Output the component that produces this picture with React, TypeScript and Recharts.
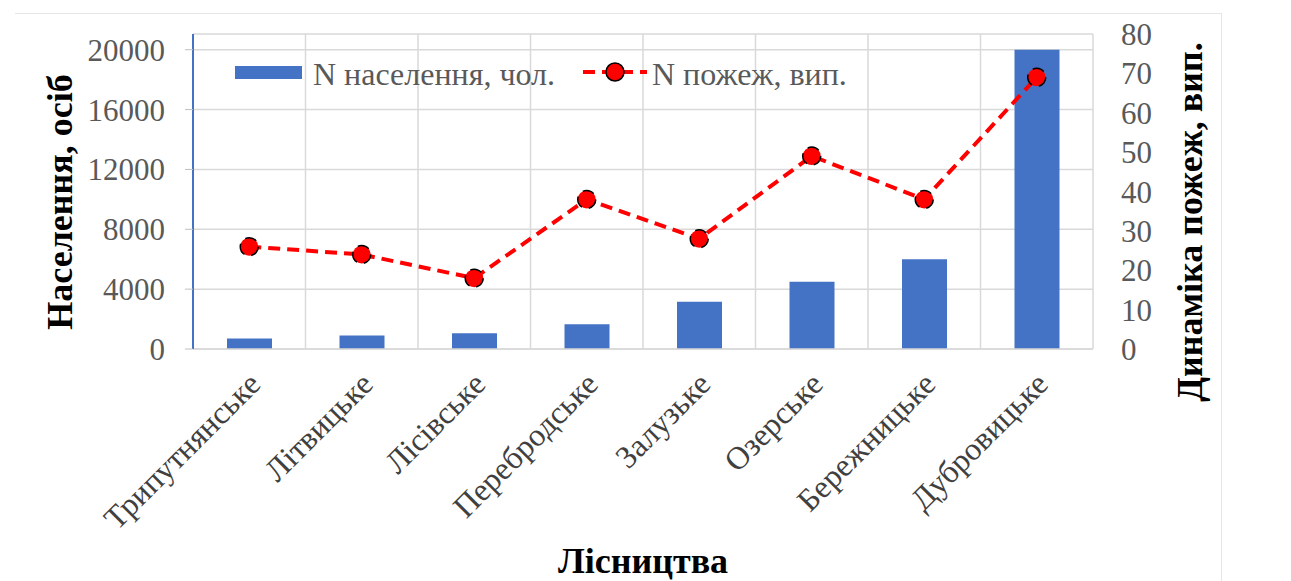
import React from "react";
import {
  ComposedChart,
  Bar,
  Line,
  XAxis,
  YAxis,
  CartesianGrid,
} from "recharts";

const categories = [
  "Трипутнянське",
  "Літвицьке",
  "Лісівське",
  "Перебродське",
  "Залузьке",
  "Озерське",
  "Бережницьке",
  "Дубровицьке",
];
const population = [700, 900, 1050, 1650, 3150, 4500, 6000, 20000];
const fires = [26, 24, 18, 38, 28, 49, 38, 69];
const leftTicks = [0, 4000, 8000, 12000, 16000, 20000];
const rightTicks = [0, 10, 20, 30, 40, 50, 60, 70, 80];

const popName = "N населення, чол.";
const fireName = "N пожеж, вип.";

const data = categories.map((name, i) => ({
  name,
  population: population[i],
  fires: fires[i],
}));

const FONT = "Times New Roman, Liberation Serif, DejaVu Serif, serif";
const BLUE = "#4472c4";
const GRID = "#d9d9d9";

const XTick = ({ x, y, payload }: any) => (
  <text
    x={0}
    y={0}
    transform={`translate(${x + 13}, ${y + 37}) rotate(-45)`}
    textAnchor="end"
    style={{ fontFamily: FONT, fontSize: 32 }}
    fill="#404040"
  >
    {payload.value}
  </text>
);

const LeftTitle = () => (
  <text
    transform="translate(72, 202) rotate(-90)"
    textAnchor="middle"
    style={{ fontFamily: FONT, fontSize: 36, fontWeight: "bold" }}
    fill="#000"
  >
    Населення, осіб
  </text>
);

const RightTitle = () => (
  <text
    transform="translate(1202, 222) rotate(-90)"
    textAnchor="middle"
    style={{ fontFamily: FONT, fontSize: 36, fontWeight: "bold" }}
    fill="#000"
  >
    Динаміка пожеж, вип.
  </text>
);

const BottomTitle = () => (
  <text
    x={643}
    y={573}
    textAnchor="middle"
    style={{ fontFamily: FONT, fontSize: 36, fontWeight: "bold" }}
    fill="#000"
  >
    Лісництва
  </text>
);

// grid lines between categories, as in the source
const verticalLines = ({ offset }: any) =>
  categories.map(
    (_, i) => offset.left + ((i + 1) * offset.width) / categories.length
  );

const tickStyle = { fill: "#595959", fontSize: 31, fontFamily: FONT };

export default function App() {
  return (
    <div
      style={{
        position: "absolute",
        left: 0,
        top: 0,
        width: 1291,
        height: 581,
        background: "#fff",
        overflow: "hidden",
        fontFamily: FONT,
      }}
    >
      <div
        style={{
          position: "absolute",
          left: 15,
          top: 13,
          width: 1206,
          height: 620,
          borderTop: "1px solid #e6e6e6",
          borderRight: "1px solid #e6e6e6",
        }}
      />
      <ComposedChart
        width={1291}
        height={581}
        data={data}
        margin={{ top: 34, right: 0, bottom: 0, left: 0 }}
        style={{ position: "absolute", left: 0, top: 0, fontFamily: FONT }}
      >
        <CartesianGrid
          yAxisId="left"
          stroke={GRID}
          strokeWidth={1.5}
          verticalCoordinatesGenerator={verticalLines}
        />
        <XAxis
          dataKey="name"
          height={232}
          interval={0}
          tickLine={false}
          tickSize={0}
          tickMargin={0}
          axisLine={{ stroke: GRID, strokeWidth: 1.5 }}
          tick={<XTick />}
          label={<BottomTitle />}
        />
        <YAxis
          yAxisId="left"
          width={193}
          domain={[0, 21050]}
          ticks={leftTicks}
          interval={0}
          tickSize={8}
          tickMargin={20}
          tickLine={{ stroke: "#bfbfbf" }}
          axisLine={{ stroke: BLUE, strokeWidth: 2 }}
          tick={{ ...tickStyle, style: { fontFamily: FONT } }}
          label={<LeftTitle />}
        />
        <YAxis
          yAxisId="right"
          orientation="right"
          width={198}
          domain={[0, 80]}
          ticks={rightTicks}
          interval={0}
          tickSize={0}
          tickMargin={28}
          tickLine={false}
          axisLine={false}
          tick={{ ...tickStyle, textAnchor: "start", style: { fontFamily: FONT } }}
          label={<RightTitle />}
        />
        <Bar
          yAxisId="left"
          dataKey="population"
          name={popName}
          fill={BLUE}
          barSize={45}
          isAnimationActive={false}
        />
        <Line
          yAxisId="right"
          dataKey="fires"
          name={fireName}
          type="linear"
          stroke="#ff0000"
          strokeWidth={4}
          strokeDasharray="12 7"
          dot={{ r: 9, fill: "#ff0000", stroke: "#000", strokeWidth: 1.5 }}
          isAnimationActive={false}
        />
      </ComposedChart>
      <svg
        width={1291}
        height={581}
        style={{ position: "absolute", left: 0, top: 0, pointerEvents: "none" }}
      >
        <rect x={235} y={66} width={67} height={13} fill={BLUE} />
        <text x={313} y={85} style={{ fontFamily: FONT, fontSize: 32 }} fill="#595959">
          {popName}
        </text>
        <line
          x1={583}
          y1={72}
          x2={647}
          y2={72}
          stroke="#ff0000"
          strokeWidth={4}
          strokeDasharray="12 7"
        />
        <circle cx={615} cy={72} r={9} fill="#ff0000" stroke="#000" strokeWidth={1.5} />
        <text x={652} y={85} style={{ fontFamily: FONT, fontSize: 32 }} fill="#595959">
          {fireName}
        </text>
      </svg>
    </div>
  );
}
